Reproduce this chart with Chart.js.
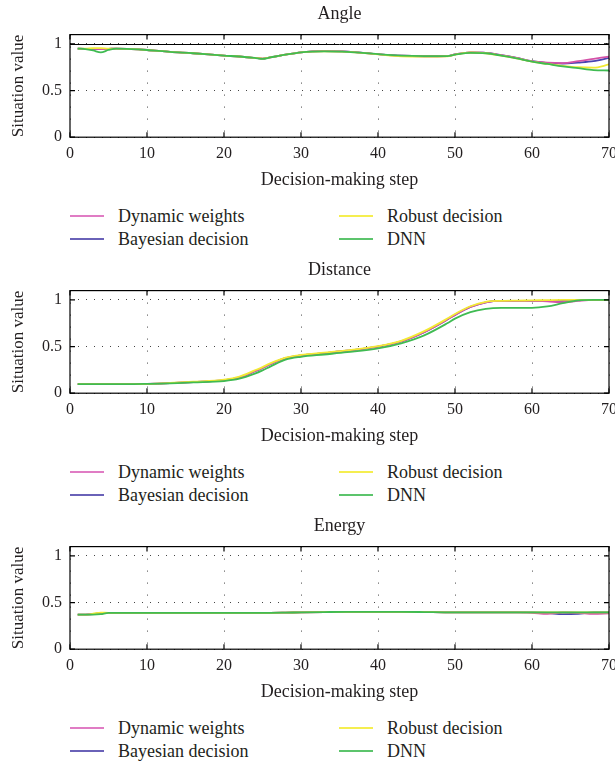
<!DOCTYPE html>
<html>
<head>
<meta charset="utf-8">
<script src="https://cdn.jsdelivr.net/npm/chart.js@4/dist/chart.umd.min.js"></script>
<style>
  body { margin: 0; background: #fff; font-family: "Liberation Serif", "DejaVu Serif", serif; color: #231f20; }
  .block { width: 615px; height: 256px; position: relative; overflow: hidden; }
  .block canvas { display: block; }
  .legend { position: relative; height: 65px; }
  .item { position: absolute; height: 20px; line-height: 20px; font-size: 18px; white-space: nowrap; }
  .item span.ln { position: absolute; left: 0; top: 9px; width: 34px; height: 2px; }
  .item span.tx { position: absolute; left: 48px; top: 0; }
</style>
</head>
<body>
<div id="charts"></div>
<script>
// x positions (decision-making step) where values were read
const steps = [1,2,3,4,5,6,8,10,13,16,20,22,24,25,26,28,30,33,36,40,43,46,49,50,52,54,56,58,60,62,64,66,68,70];

const seriesNames = ['Dynamic weights', 'Bayesian decision', 'Robust decision', 'DNN'];
const seriesColors = ['#d452a8', '#4a44b0', '#f2ea34', '#3fbb52'];
const legendColors = ['#e07cc4', '#6a62b8', '#f5ee50', '#5cc46c'];

// Angle
const angleDynamic  = [0.95,0.948,0.946,0.945,0.947,0.95,0.945,0.935,0.915,0.90,0.875,0.865,0.85,0.842,0.855,0.885,0.91,0.922,0.917,0.89,0.873,0.868,0.87,0.888,0.91,0.905,0.88,0.85,0.815,0.80,0.795,0.815,0.84,0.865];
const angleBayesian = [0.95,0.948,0.946,0.945,0.947,0.95,0.945,0.935,0.915,0.90,0.875,0.865,0.85,0.842,0.855,0.885,0.91,0.922,0.917,0.89,0.873,0.868,0.87,0.888,0.91,0.905,0.88,0.85,0.815,0.795,0.79,0.80,0.815,0.85];
const angleRobust   = [0.95,0.95,0.955,0.955,0.95,0.95,0.945,0.935,0.915,0.90,0.875,0.865,0.85,0.842,0.855,0.885,0.91,0.92,0.915,0.888,0.868,0.865,0.868,0.886,0.908,0.90,0.875,0.845,0.81,0.785,0.765,0.75,0.745,0.78];
const angleDNN      = [0.95,0.945,0.93,0.91,0.935,0.95,0.945,0.935,0.915,0.90,0.875,0.865,0.85,0.84,0.855,0.885,0.91,0.92,0.915,0.89,0.875,0.87,0.87,0.885,0.905,0.90,0.875,0.845,0.81,0.785,0.76,0.74,0.72,0.715];

// Distance
const distDynamic  = [0.098,0.098,0.098,0.098,0.098,0.098,0.098,0.10,0.108,0.12,0.14,0.17,0.235,0.27,0.31,0.375,0.405,0.43,0.455,0.50,0.555,0.655,0.79,0.84,0.925,0.975,0.99,0.99,0.99,0.985,0.975,0.99,1.0,1.0];
const distBayesian = [0.098,0.098,0.098,0.098,0.098,0.098,0.098,0.10,0.108,0.12,0.14,0.17,0.235,0.27,0.31,0.375,0.405,0.43,0.455,0.50,0.555,0.655,0.79,0.84,0.925,0.975,0.99,0.99,0.99,0.99,0.99,1.0,1.0,1.0];
const distRobust   = [0.098,0.098,0.098,0.098,0.098,0.098,0.098,0.10,0.11,0.123,0.145,0.178,0.245,0.28,0.32,0.382,0.41,0.435,0.46,0.505,0.562,0.665,0.80,0.85,0.932,0.98,0.99,0.993,0.995,0.998,1.0,1.0,1.0,1.0];
const distDNN      = [0.098,0.098,0.098,0.098,0.098,0.098,0.098,0.10,0.105,0.115,0.13,0.155,0.21,0.245,0.285,0.36,0.39,0.415,0.44,0.48,0.535,0.62,0.75,0.80,0.87,0.905,0.915,0.915,0.915,0.93,0.965,0.995,1.0,1.0];

// Energy
const energyDynamic  = [0.37,0.37,0.375,0.39,0.39,0.39,0.39,0.39,0.39,0.39,0.39,0.39,0.39,0.39,0.39,0.392,0.395,0.398,0.40,0.40,0.40,0.398,0.395,0.395,0.395,0.395,0.395,0.395,0.39,0.38,0.395,0.39,0.38,0.385];
const energyBayesian = [0.37,0.37,0.375,0.39,0.39,0.39,0.39,0.39,0.39,0.39,0.39,0.39,0.39,0.39,0.39,0.392,0.395,0.398,0.40,0.40,0.40,0.398,0.395,0.395,0.395,0.395,0.395,0.395,0.395,0.39,0.375,0.38,0.395,0.395];
const energyRobust   = [0.37,0.37,0.38,0.393,0.39,0.39,0.39,0.39,0.39,0.39,0.39,0.39,0.39,0.39,0.39,0.392,0.395,0.398,0.40,0.40,0.40,0.398,0.395,0.395,0.395,0.395,0.395,0.395,0.395,0.395,0.395,0.395,0.395,0.395];
const energyDNN      = [0.37,0.37,0.37,0.375,0.39,0.39,0.39,0.39,0.39,0.39,0.39,0.39,0.39,0.39,0.39,0.392,0.395,0.398,0.40,0.40,0.40,0.398,0.395,0.395,0.395,0.395,0.395,0.395,0.395,0.395,0.395,0.395,0.395,0.395];

const panels = [
  { title: 'Angle',    solidAt: 1,    values: [angleDynamic, angleBayesian, angleRobust, angleDNN] },
  { title: 'Distance', solidAt: null, values: [distDynamic, distBayesian, distRobust, distDNN] },
  { title: 'Energy',   solidAt: null, values: [energyDynamic, energyBayesian, energyRobust, energyDNN] }
];

const xTicks = [0,10,20,30,40,50,60,70];
const yTicks = [0,0.5,1];
const FONT = '"Liberation Serif", "DejaVu Serif", serif';
const INK = '#231f20';

// frame, inward tick marks, and the solid reference line in the angle panel
const framePlugin = {
  id: 'frame',
  afterDatasetsDraw(chart, args, opts) {
    const {ctx, chartArea: a, scales: {x, y}} = chart;
    ctx.save();
    ctx.strokeStyle = '#000';
    ctx.lineWidth = 1;
    if (opts.solidAt != null) {
      const py = Math.round(y.getPixelForValue(opts.solidAt)) + 0.5;
      ctx.beginPath(); ctx.moveTo(a.left, py); ctx.lineTo(a.right, py); ctx.stroke();
    }
    ctx.lineWidth = 1.2;
    ctx.strokeRect(a.left, a.top, a.right - a.left, a.bottom - a.top);
    ctx.beginPath();
    x.ticks.forEach(t => {
      const px = x.getPixelForValue(t.value);
      ctx.moveTo(px, a.bottom); ctx.lineTo(px, a.bottom - 5);
      ctx.moveTo(px, a.top); ctx.lineTo(px, a.top + 5);
    });
    y.ticks.forEach(t => {
      const py = y.getPixelForValue(t.value);
      ctx.moveTo(a.left, py); ctx.lineTo(a.left + 5, py);
      ctx.moveTo(a.right, py); ctx.lineTo(a.right - 5, py);
    });
    ctx.stroke();
    ctx.restore();
  }
};

// draw top-most last: DNN, Robust, Dynamic, Bayesian
const drawOrder = [3, 2, 0, 1];

panels.forEach(panel => {
  const block = document.createElement('div');
  block.className = 'block';
  const canvas = document.createElement('canvas');
  canvas.width = 615; canvas.height = 191;
  block.appendChild(canvas);

  const legend = document.createElement('div');
  legend.className = 'legend';
  seriesNames.forEach((name, i) => {
    const col = i < 2 ? 0 : 1, row = i % 2;
    const it = document.createElement('div');
    it.className = 'item';
    it.style.left = (col === 0 ? 70 : 339) + 'px';
    it.style.top = (15 + row * 23) + 'px';
    it.innerHTML = '<span class="ln" style="background:' + legendColors[i] + '"></span><span class="tx">' + name + '</span>';
    legend.appendChild(it);
  });
  block.appendChild(legend);
  document.getElementById('charts').appendChild(block);

  const datasets = drawOrder.map(i => ({
    label: seriesNames[i],
    data: steps.map((s, k) => ({x: s, y: panel.values[i][k]})),
    borderColor: seriesColors[i],
    borderWidth: 1.8,
    pointRadius: 0,
    cubicInterpolationMode: 'monotone',
    fill: false
  }));

  new Chart(canvas.getContext('2d'), {
    type: 'line',
    data: { datasets: datasets },
    plugins: [framePlugin],
    options: {
      responsive: false,
      animation: false,
      layout: { padding: { left: 0, right: 6, top: 0, bottom: 0 } },
      plugins: {
        legend: { display: false },
        tooltip: { enabled: false },
        frame: { solidAt: panel.solidAt },
        title: {
          display: true, text: panel.title, color: INK, fullSize: false,
          font: { family: FONT, size: 18, weight: 'normal' },
          padding: { top: 3, bottom: 10 }
        }
      },
      scales: {
        x: {
          type: 'linear', min: 0, max: 70,
          afterBuildTicks: s => { s.ticks = xTicks.map(v => ({value: v})); },
          afterFit: s => { s.paddingRight = 0; s.paddingLeft = 0; },
          ticks: { color: INK, font: { family: FONT, size: 16 }, padding: 7, maxRotation: 0 },
          grid: { drawTicks: false, color: '#444', lineWidth: 1 },
          border: { display: false, dash: [1, 11] },
          title: { display: true, text: 'Decision-making step', color: INK, font: { family: FONT, size: 18 }, padding: { top: -1, bottom: 0 } }
        },
        y: {
          type: 'linear', min: 0, max: 1.1,
          afterBuildTicks: s => { s.ticks = yTicks.map(v => ({value: v})); },
          afterFit: s => { s.width = 70; },
          ticks: { color: INK, font: { family: FONT, size: 16 }, padding: 8, callback: v => String(v) },
          grid: { drawTicks: false, color: '#444', lineWidth: 1 },
          border: { display: false, dash: [1, 7] },
          title: { display: true, text: 'Situation value', color: INK, font: { family: FONT, size: 17 }, padding: { top: 8, bottom: 0 } }
        }
      }
    }
  });
});
</script>
</body>
</html>
